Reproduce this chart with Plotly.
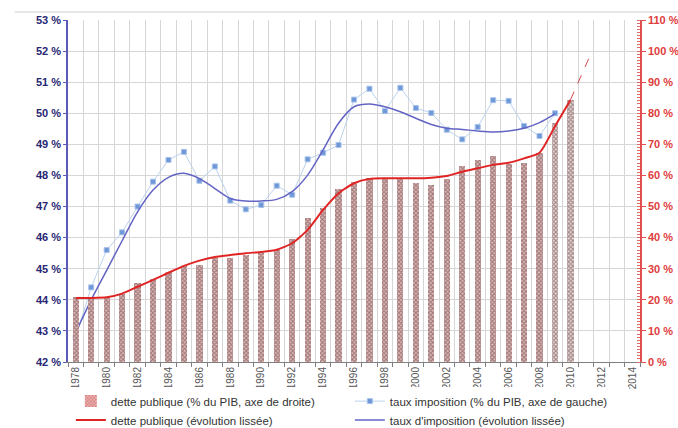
import plotly.graph_objects as go

# ---------------- data ----------------
debt_years = list(range(1978, 2011))
debt = [21.0, 20.8, 21.0, 21.9, 25.4, 26.6, 29.0, 30.8, 31.2, 33.5, 33.5, 34.4, 35.2, 36.0,
        39.6, 46.2, 49.4, 55.6, 58.0, 59.1, 59.1, 58.8, 57.5, 56.9, 58.8, 63.0, 65.0, 66.3,
        63.7, 63.9, 67.3, 77.0, 84.3]
debt_smooth = [20.6, 20.6, 20.8, 22.0, 24.2, 26.4, 28.7, 30.9, 32.6, 33.8, 34.4, 35.0, 35.4,
               36.1, 38.2, 42.5, 48.9, 54.3, 57.5, 58.9, 59.1, 59.1, 59.1, 59.3, 59.8, 61.2,
               62.3, 63.4, 64.1, 65.5, 67.3, 75.8, 84.3]
proj_years = [2010, 2011.4]
proj_debt = [84.3, 100.0]

tax_years = list(range(1978, 2010))
tax = [42.8, 44.4, 45.6, 46.17, 47.0, 47.8, 48.5, 48.76, 47.83, 48.29, 47.19, 46.91, 47.05,
       47.67, 47.38, 48.52, 48.73, 48.98, 50.44, 50.79, 50.07, 50.82, 50.17, 50.01, 49.47,
       49.16, 49.56, 50.42, 50.4, 49.59, 49.27, 50.0]
tax_smooth = [42.95, 44.0, 44.95, 45.9, 46.83, 47.53, 47.94, 48.07, 47.9, 47.58, 47.26, 47.18,
              47.18, 47.23, 47.48, 48.01, 48.82, 49.68, 50.21, 50.3, 50.21, 50.05, 49.84, 49.64,
              49.52, 49.48, 49.43, 49.4, 49.43, 49.52, 49.7, 49.98]

label_years = list(range(1978, 2015, 2))
left_ticks = list(range(42, 54))
right_ticks = list(range(0, 111, 10))

FONT = "Liberation Sans, Arial, sans-serif"
GRID = "#D6D6D6"

fig = go.Figure()

bar_fg = ["#CC5656" if y < 2009 else "#DE9A9A" for y in debt_years]
bar_bg = ["#EDB8B8" if y < 2009 else "#F4D6D6" for y in debt_years]
fig.add_trace(go.Bar(
    x=debt_years, y=debt, yaxis="y2", width=0.4,
    name="dette publique (% du PIB, axe de droite)",
    marker=dict(color=bar_bg, line=dict(width=0),
                pattern=dict(shape="x", size=3, solidity=0.6, fgcolor=bar_fg, bgcolor=bar_bg)),
))
fig.add_trace(go.Scatter(
    x=tax_years, y=tax, mode="lines+markers",
    name="taux imposition (% du PIB, axe de gauche)",
    line=dict(color="#BBD2EE", width=1),
    marker=dict(symbol="square", size=5, color="#6E97D8", line=dict(color="#A9C3EA", width=1)),
))
fig.add_trace(go.Scatter(
    x=debt_years, y=debt_smooth, yaxis="y2", mode="lines",
    name="dette publique (évolution lissée)",
    line=dict(color="#E02424", width=2, shape="spline", smoothing=0.6),
))
fig.add_trace(go.Scatter(
    x=tax_years, y=tax_smooth, mode="lines",
    name="taux d'imposition (évolution lissée)",
    line=dict(color="#6464C4", width=1.5, shape="spline", smoothing=0.9),
))
fig.add_trace(go.Scatter(
    x=proj_years, y=proj_debt, yaxis="y2", mode="lines", showlegend=False,
    line=dict(color="#D04848", width=1, dash="dash"),
))

fig.update_layout(
    width=678, height=428,
    margin=dict(l=68, r=38, t=20, b=66, autoexpand=False),
    paper_bgcolor="white", plot_bgcolor="white",
    font=dict(family=FONT, size=11, color="#333333"),
    bargap=0,
    xaxis=dict(
        type="linear", range=[1977.5, 2014.5],
        tickmode="array", tickvals=label_years, ticktext=[str(y) for y in label_years],
        tickangle=-90, ticks="", showgrid=False, zeroline=False,
        tickfont=dict(size=10, color="#555555"),
        showline=True, linecolor="#808080", linewidth=1,
        minor=dict(tickmode="linear", tick0=1977.5, dtick=1, ticks="outside", ticklen=4,
                   tickcolor="#808080", showgrid=True, gridcolor=GRID, gridwidth=1),
    ),
    yaxis=dict(
        range=[42, 53], tickmode="array", tickvals=left_ticks,
        ticktext=[f"{v} %" for v in left_ticks],
        tickfont=dict(size=11, color="#262673"),
        showgrid=True, gridcolor=GRID, gridwidth=1, zeroline=False,
        showline=True, linecolor="#5A5AB8", linewidth=1.5,
        ticks="outside", ticklen=3, tickcolor="#5A5AB8",
    ),
    yaxis2=dict(
        range=[0, 110], overlaying="y", side="right", tickmode="array", tickvals=right_ticks,
        ticktext=[f"{v} %" for v in right_ticks],
        tickfont=dict(size=11, color="#E03C3C"),
        showgrid=False, zeroline=False,
        showline=True, linecolor="#E05050", linewidth=1.5,
        ticks="outside", ticklen=4, tickcolor="#E05050",
        minor=dict(tickmode="linear", tick0=0, dtick=1, ticks="inside", ticklen=3,
                   tickcolor="#E06A6A", tickwidth=1),
    ),
    showlegend=True,
    legend=dict(orientation="h", x=0.005, xanchor="left", y=-0.072, yanchor="top",
                entrywidth=234, font=dict(size=11.5, color="#333333"),
                traceorder="normal", itemwidth=30, tracegroupgap=0),
    shapes=[dict(type="line", xref="paper", yref="paper", x0=-0.093, x1=1.07,
                 y0=1.0234, y1=1.0234, line=dict(color="#D0D0D0", width=1))],
)

for ax in ("yaxis", "yaxis2"):
    fig.layout[ax].tickfont.weight = "bold"

fig.write_html("out.html", config={"displayModeBar": False},
               post_script="document.body.style.margin='0px';")
